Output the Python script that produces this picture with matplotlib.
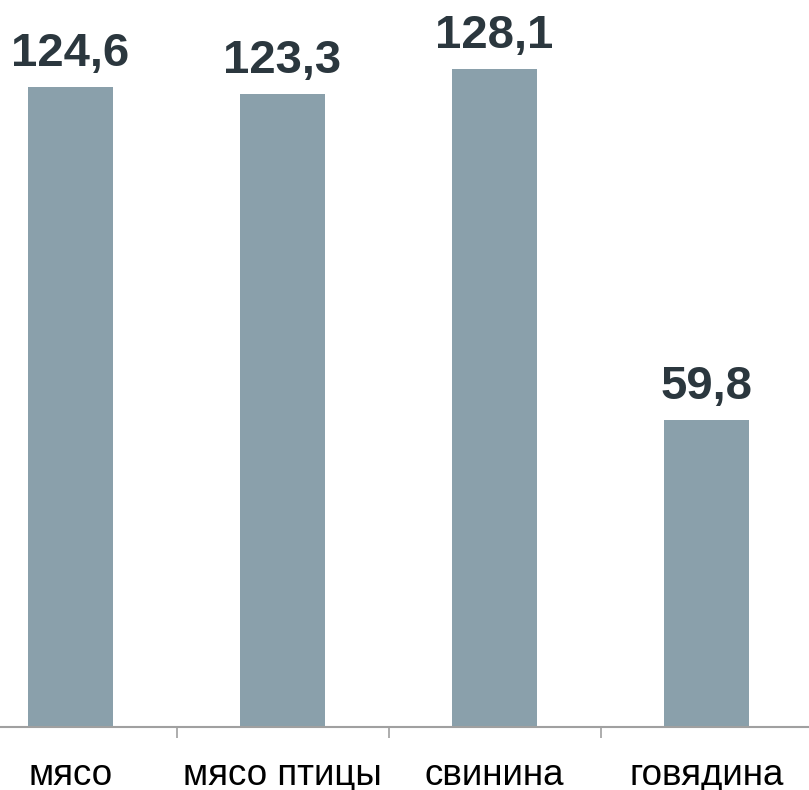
import matplotlib
matplotlib.use("Agg")
import matplotlib.pyplot as plt

categories = ["мясо", "мясо птицы", "свинина", "говядина"]
values = [124.6, 123.3, 128.1, 59.8]
labels = ["124,6", "123,3", "128,1", "59,8"]

plt.rcParams['font.family'] = ['Liberation Sans', 'DejaVu Sans']

W, H = 809, 790
fig = plt.figure(figsize=(W/100, H/100), dpi=100)
left_px, right_px = -35.5, 812.5
bottom_px, top_px = 727, 0
ax = fig.add_axes([left_px/W, (H-bottom_px)/H, (right_px-left_px)/W, (bottom_px-top_px)/H])

x = list(range(len(categories)))
ax.bar(x, values, width=0.4, color="#8AA0AB", zorder=2)
ax.set_xlim(-0.5, len(categories)-0.5)
ax.set_ylim(0, 141.5)

for xi, v, lab in zip(x, values, labels):
    ax.annotate(lab, (xi, v), xytext=(0, 15), textcoords="offset points",
                ha="center", va="baseline", fontsize=34, fontweight="bold", color="#2B373E")

for s in ["top", "right", "left"]:
    ax.spines[s].set_visible(False)
ax.spines["bottom"].set_color("#A0A0A0")
ax.spines["bottom"].set_linewidth(1.5)
ax.set_yticks([])
ax.set_xticks([i + 0.5 for i in range(-1, len(categories))], minor=False)
ax.set_xticklabels([])
ax.tick_params(axis="x", length=8, width=1.2, color="#A0A0A0")
for xi, c in zip(x, categories):
    ax.annotate(c, (xi, 0), xytext=(0, -42), textcoords="offset points",
                ha="center", va="baseline", fontsize=26.5, color="#000000",
                annotation_clip=False)

fig.savefig("out.png", dpi=100)
